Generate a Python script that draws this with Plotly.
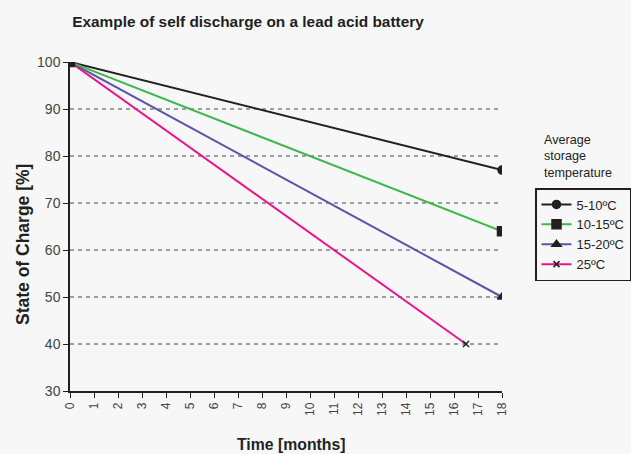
import plotly.graph_objects as go

months_start_end = {
    "5-10ºC": [0, 18],
    "10-15ºC": [0, 18],
    "15-20ºC": [0, 18],
    "25ºC": [0, 16.5],
}
charge = {
    "5-10ºC": [100, 77],
    "10-15ºC": [100, 64],
    "15-20ºC": [100, 50],
    "25ºC": [100, 40],
}
series_names = ["5-10ºC", "10-15ºC", "15-20ºC", "25ºC"]
line_colors = ["#231f20", "#3cb84a", "#5b55a8", "#e8168a"]
symbols = ["circle", "square", "triangle-up", "x-thin"]
marker_sizes = [8, 9, 8, 6]
draw_order = [0, 2, 3, 1]
x_ticks = list(range(0, 19))
y_ticks = [30, 40, 50, 60, 70, 80, 90, 100]
grid_vals = [40, 50, 60, 70, 80, 90]

BOLD = "Liberation Sans, Arial, sans-serif"
REG = "Liberation Sans, Arial, sans-serif"

fig = go.Figure()
for i in draw_order:
    name = series_names[i]
    fig.add_trace(go.Scatter(
        x=months_start_end[name], y=charge[name], name=name,
        mode="lines+markers", legendrank=i + 1,
        line=dict(color=line_colors[i], width=2),
        marker=dict(symbol=symbols[i], size=marker_sizes[i], color="#231f20",
                    line=dict(color="#231f20", width=1.5)),
    ))

for g in grid_vals:
    fig.add_shape(type="line", xref="x", yref="y", x0=0, x1=18.25, y0=g, y1=g,
                  line=dict(color="#444444", width=1, dash="4px,4px"), layer="below")

fig.update_layout(
    width=631, height=454,
    margin=dict(l=70, r=129, t=62, b=63),
    paper_bgcolor="#f7f7f7", plot_bgcolor="#f7f7f7",
    title=dict(text="<b>Example of self discharge on a lead acid battery</b>",
               x=248/631, xanchor="center", y=1-22/454, yanchor="middle",
               font=dict(family=BOLD, size=15.4, color="#231f20")),
    showlegend=True,
    legend=dict(xref="container", yref="container",
                x=535/631, xanchor="left", y=1-188/454, yanchor="top",
                bgcolor="#f7f7f7", bordercolor="#231f20", borderwidth=1.5,
                font=dict(family=REG, size=13, color="#231f20"),
                tracegroupgap=0, itemwidth=30),
    annotations=[
        dict(text="Average<br>storage<br>temperature", xref="paper", yref="paper",
             x=(542-70)/432, y=(391-131)/329, xanchor="left", yanchor="top",
             showarrow=False, align="left",
             font=dict(family=REG, size=12.6, color="#231f20")),
        dict(text="<b>State of Charge [%]</b>", xref="paper", yref="paper",
             x=(23-70)/432, y=(391-245)/329, xanchor="center", yanchor="middle",
             textangle=-90, showarrow=False,
             font=dict(family=BOLD, size=17.5, color="#231f20")),
        dict(text="<b>Time [months]</b>", xref="paper", yref="paper",
             x=(291-70)/432, y=(391-444)/329, xanchor="center", yanchor="middle",
             showarrow=False,
             font=dict(family=BOLD, size=15.8, color="#231f20")),
    ],
)
fig.update_xaxes(
    range=[0, 18], tickvals=x_ticks, ticktext=[str(v) for v in x_ticks],
    tickangle=-90, ticks="outside", ticklen=5, tickcolor="#231f20",
    showline=True, linecolor="#231f20", linewidth=1.5, showgrid=False, zeroline=False,
    automargin=False,
    tickfont=dict(family=REG, size=12, color="#444"),
)
fig.update_yaxes(
    range=[30, 100], tickvals=y_ticks, ticks="outside", ticklen=5, tickcolor="#231f20",
    showline=True, linecolor="#231f20", linewidth=1.5, showgrid=False, zeroline=False,
    automargin=False,
    tickfont=dict(family=REG, size=14, color="#444"),
)
fig.write_html("out.html", config={"displayModeBar": False},
               post_script="document.body.style.margin='0';")
